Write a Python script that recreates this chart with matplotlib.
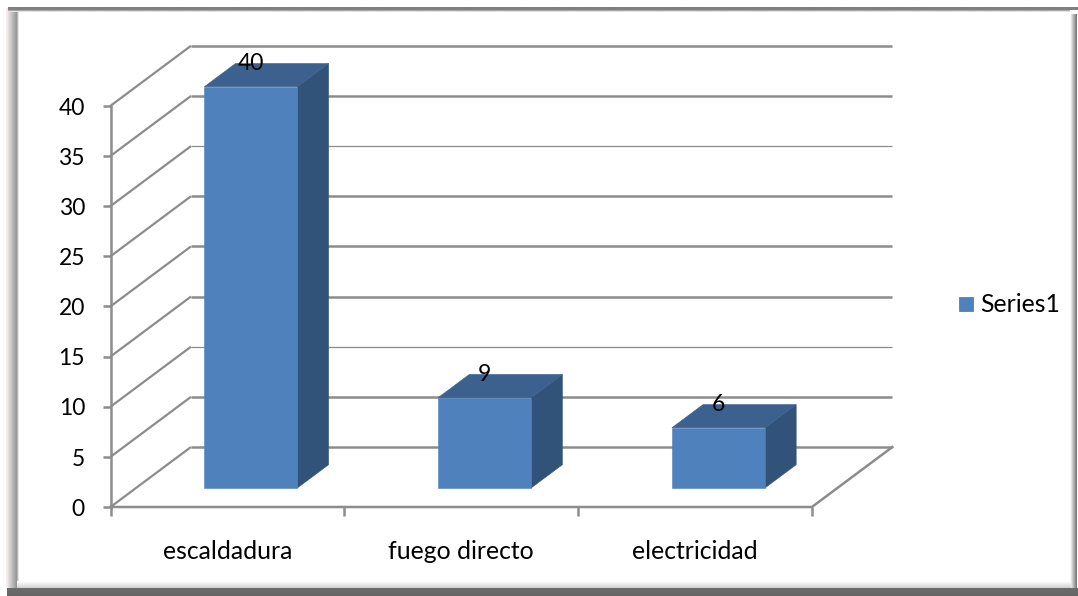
import matplotlib
matplotlib.use("Agg")
import matplotlib.pyplot as plt
import numpy as np
from matplotlib.patches import Polygon, Rectangle

categories = ["escaldadura", "fuego directo", "electricidad"]
values = [40, 9, 6]
series_name = "Series1"
value_ticks = [0, 5, 10, 15, 20, 25, 30, 35, 40]

W, H = 1078, 596
plt.rcParams["font.family"] = ["Lato", "DejaVu Sans"]

# Oblique projection: category and value units in pixels, plus the depth shift
X0, Y0 = 110.5, 507
CAT_PX = 233.8
VAL_PX = 10.03
DEPTH_DX, DEPTH_DY = 80.5, 60
BAR_WIDTH = 0.398
BAR_SHIFT = -0.009
BAR_D0, BAR_D1 = 0.317, 0.705
TICK_FS = 16.5
WORD_FS = 17.8


def proj(x, v, d=0.0):
    """Category position, value and depth (0 front, 1 back) to axes coordinates."""
    return (x + d * DEPTH_DX / CAT_PX, v + d * DEPTH_DY / VAL_PX)


fig = plt.figure(figsize=(W / 100, H / 100), dpi=100, facecolor="white")

# Frame with bevelled edges, in pixel coordinates
bg = fig.add_axes([0, 0, 1, 1], zorder=0)
bg.set_xlim(0, W)
bg.set_ylim(H, 0)
bg.axis("off")


def gradient(x0, x1, y0, y1, c0, c1, horizontal=True):
    t = np.linspace(0, 1, 32)
    g = c0 + (c1 - c0) * t
    img = g[None, :] if horizontal else g[:, None]
    bg.imshow(img, extent=(x0, x1, y1, y0), cmap="gray", vmin=0, vmax=1,
              aspect="auto", interpolation="bilinear", zorder=1)


gradient(7, 17, 8, 590, 0.93, 0.58)           # left bevel
gradient(17, 19, 12, 583, 0.62, 1.0)
gradient(1070, 1077, 14, 590, 1.0, 0.45)      # right bevel
gradient(8, 1078, 7, 10, 0.50, 0.50, False)   # top edge
gradient(8, 1070, 10, 12, 0.55, 1.0, False)
gradient(17, 1071, 581, 588, 1.0, 0.82, False)  # bottom bevel
gradient(7, 1078, 588, 596, 0.42, 0.40, False)  # bottom band
bg.set_xlim(0, W)
bg.set_ylim(H, 0)
bg.add_patch(Rectangle((5.5, 8), 1.5, 580, color="#fbe9e9", lw=0, zorder=1))

# Chart area sharing the same pixel grid
ax = fig.add_axes([0, 0, 1, 1], zorder=1)
ax.patch.set_alpha(0)
ax.axis("off")
ax.set_xlim(-X0 / CAT_PX, (W - X0) / CAT_PX)
ax.set_ylim((Y0 - H) / VAL_PX, Y0 / VAL_PX)

GRID = "#8c8c8c"
n_cat = len(categories)

# Back wall lines, side wall diagonals and value ticks
for v in value_ticks:
    p0, p1 = proj(0, v), proj(0, v, 1)
    p2 = proj(n_cat, v, 1)
    ax.plot([p0[0], p1[0]], [p0[1], p1[1]], color=GRID, lw=1.6,
            solid_capstyle="butt", zorder=2)
    ax.plot([p1[0], p2[0]], [p1[1], p2[1]], color=GRID, lw=0.9 if v in (10, 30) else 1.8,
            solid_capstyle="butt", zorder=2)
    ax.plot([-8 / CAT_PX, 0], [v, v], color=GRID, lw=1.8, solid_capstyle="butt", zorder=2)
    ax.text(-25.5 / CAT_PX, v - 0.22, str(v), ha="right", va="center", fontsize=TICK_FS, color="black")

# Floor front edge, right diagonal and category ticks
q1 = proj(n_cat, 0, 1)
ax.plot([0, n_cat, q1[0]], [0, 0, q1[1]], color=GRID, lw=1.8,
        solid_joinstyle="miter", zorder=2)
ax.plot([0, 0], [0, max(value_ticks)], color=GRID, lw=1.8, zorder=2)
for i in range(n_cat + 1):
    ax.plot([i, i], [0, -9 / VAL_PX], color=GRID, lw=1.8, solid_capstyle="butt", zorder=2)

# Bars as front, top and side faces
FRONT, TOP, SIDE = "#4f81bd", "#3c618f", "#325379"
for i, (cat, val) in enumerate(zip(categories, values)):
    xc = i + 0.5 + BAR_SHIFT
    xl, xr = xc - BAR_WIDTH / 2, xc + BAR_WIDTH / 2
    front = [proj(xl, 0, BAR_D0), proj(xr, 0, BAR_D0), proj(xr, val, BAR_D0), proj(xl, val, BAR_D0)]
    top = [proj(xl, val, BAR_D0), proj(xr, val, BAR_D0), proj(xr, val, BAR_D1), proj(xl, val, BAR_D1)]
    side = [proj(xr, 0, BAR_D0), proj(xr, 0, BAR_D1), proj(xr, val, BAR_D1), proj(xr, val, BAR_D0)]
    ax.add_patch(Polygon(side, closed=True, fc=SIDE, ec=SIDE, lw=0.4, zorder=3))
    ax.add_patch(Polygon(top, closed=True, fc=TOP, ec=TOP, lw=0.4, zorder=3))
    ax.add_patch(Polygon(front, closed=True, fc=FRONT, ec=FRONT, lw=0.4, zorder=4))
    lx, ly = proj(xc, val, BAR_D0)
    ax.annotate(str(val), (lx, ly), xytext=(0, 17), textcoords="offset points",
                ha="center", va="center", fontsize=TICK_FS, color="black", zorder=5)
    ax.text(i + 0.5, -44.5 / VAL_PX, cat, ha="center", va="center", fontsize=WORD_FS, color="black")

# Legend entry
bg.add_patch(Rectangle((959, 297), 14, 14, fc=FRONT, ec="#4474ad", lw=0.5, zorder=3))
bg.text(980, 304.5, series_name, ha="left", va="center", fontsize=WORD_FS, color="black", zorder=3)

fig.savefig("out.png", dpi=100, facecolor="white")
